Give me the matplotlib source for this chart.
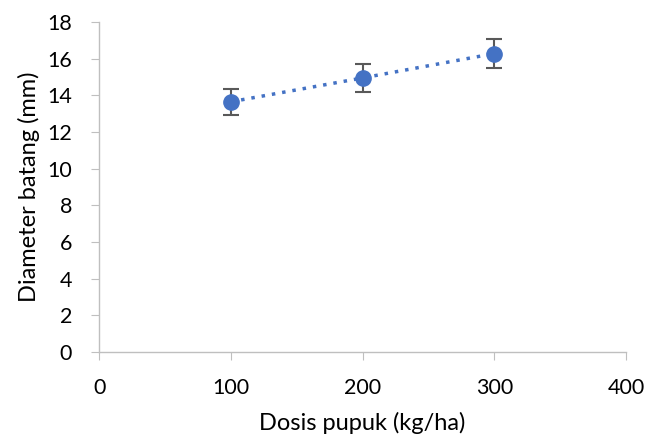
import matplotlib
matplotlib.use("Agg")
import matplotlib.pyplot as plt

dosis = [100, 200, 300]
diameter = [13.65, 14.95, 16.28]
galat = [0.7, 0.75, 0.8]

plt.rcParams['font.family'] = ['Lato', 'DejaVu Sans']

fig = plt.figure(figsize=(6.48, 4.41), dpi=100)
ax = fig.add_axes([0.153, 0.202, 0.813, 0.748])

ax.errorbar(dosis, diameter, yerr=galat, fmt='o', color='#4472C4', ms=11,
            ecolor='#595959', elinewidth=1.5, capsize=6, capthick=1.5, zorder=3)
ax.plot(dosis, diameter, ls=(0, (1, 2)), lw=2.5, color='#4472C4', zorder=2)

ax.set_xlim(0, 400)
ax.set_ylim(0, 18)
ax.set_xticks([0, 100, 200, 300, 400])
ax.set_yticks(range(0, 19, 2))
for s in ['top', 'right']:
    ax.spines[s].set_visible(False)
for s in ['left', 'bottom']:
    ax.spines[s].set_color('#BFBFBF')
    ax.spines[s].set_linewidth(1)
ax.tick_params(direction='out', length=6, color='#BFBFBF', labelsize=15.5,
               labelcolor='black', pad=13.5)
ax.tick_params(axis='x', pad=13)
ax.set_xlabel('Dosis pupuk (kg/ha)', fontsize=17, labelpad=10)
ax.set_ylabel('Diameter batang (mm)', fontsize=17, labelpad=5)

fig.savefig('out.png', dpi=100)
